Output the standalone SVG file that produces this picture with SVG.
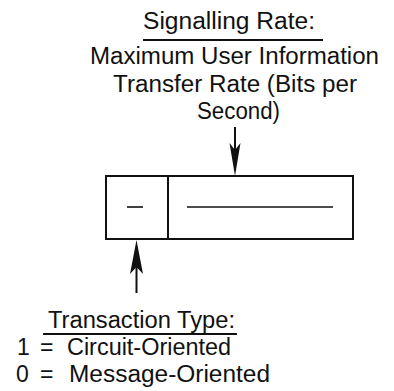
<svg xmlns="http://www.w3.org/2000/svg" width="394" height="391" viewBox="0 0 394 391">
<style>
text{font-family:"Liberation Sans",Arial,Helvetica,sans-serif;font-size:23px;fill:#111}
.ln{stroke:#111;stroke-width:2;fill:none}
.tk{stroke:#111;stroke-width:1.6;fill:none}
.ah{fill:#111;stroke:none}
</style>
<rect width="394" height="391" fill="#fff"/>
<g id="label-signalling">
<text x="143" y="29" textLength="172" lengthAdjust="spacingAndGlyphs">Signalling Rate:</text>
<line class="ln" x1="143" y1="40" x2="323" y2="40"/>
<text x="90" y="64" textLength="289" lengthAdjust="spacingAndGlyphs">Maximum User Information</text>
<text x="113" y="92" textLength="244" lengthAdjust="spacingAndGlyphs">Transfer Rate (Bits per</text>
<text x="197" y="119" textLength="83" lengthAdjust="spacingAndGlyphs">Second)</text>
</g>
<g id="frame">
<rect class="ln" x="106" y="176" width="247" height="63"/>
<line class="ln" x1="168" y1="176" x2="168" y2="239"/>
<line class="tk" x1="127" y1="207" x2="143" y2="207"/>
<line class="tk" x1="187" y1="207" x2="333" y2="207"/>
</g>
<g id="connectors">
<line class="ln" x1="235" y1="127" x2="235" y2="160"/>
<polygon class="ah" points="229.5,143 235,150 240.5,143 235,176"/>
<line class="ln" x1="136.5" y1="260" x2="136.5" y2="293"/>
<polygon class="ah" points="130,274 136.5,267 143,274 136.5,240"/>
</g>
<g id="label-transaction">
<text x="48" y="328" textLength="187" lengthAdjust="spacingAndGlyphs">Transaction Type:</text>
<line class="ln" x1="43" y1="334" x2="237" y2="334"/>
<text y="355"><tspan x="17">1</tspan><tspan x="40">=</tspan><tspan x="67" textLength="164" lengthAdjust="spacingAndGlyphs">Circuit-Oriented</tspan></text>
<text y="382"><tspan x="16">0</tspan><tspan x="40">=</tspan><tspan x="69" textLength="201" lengthAdjust="spacingAndGlyphs">Message-Oriented</tspan></text>
</g>
</svg>
